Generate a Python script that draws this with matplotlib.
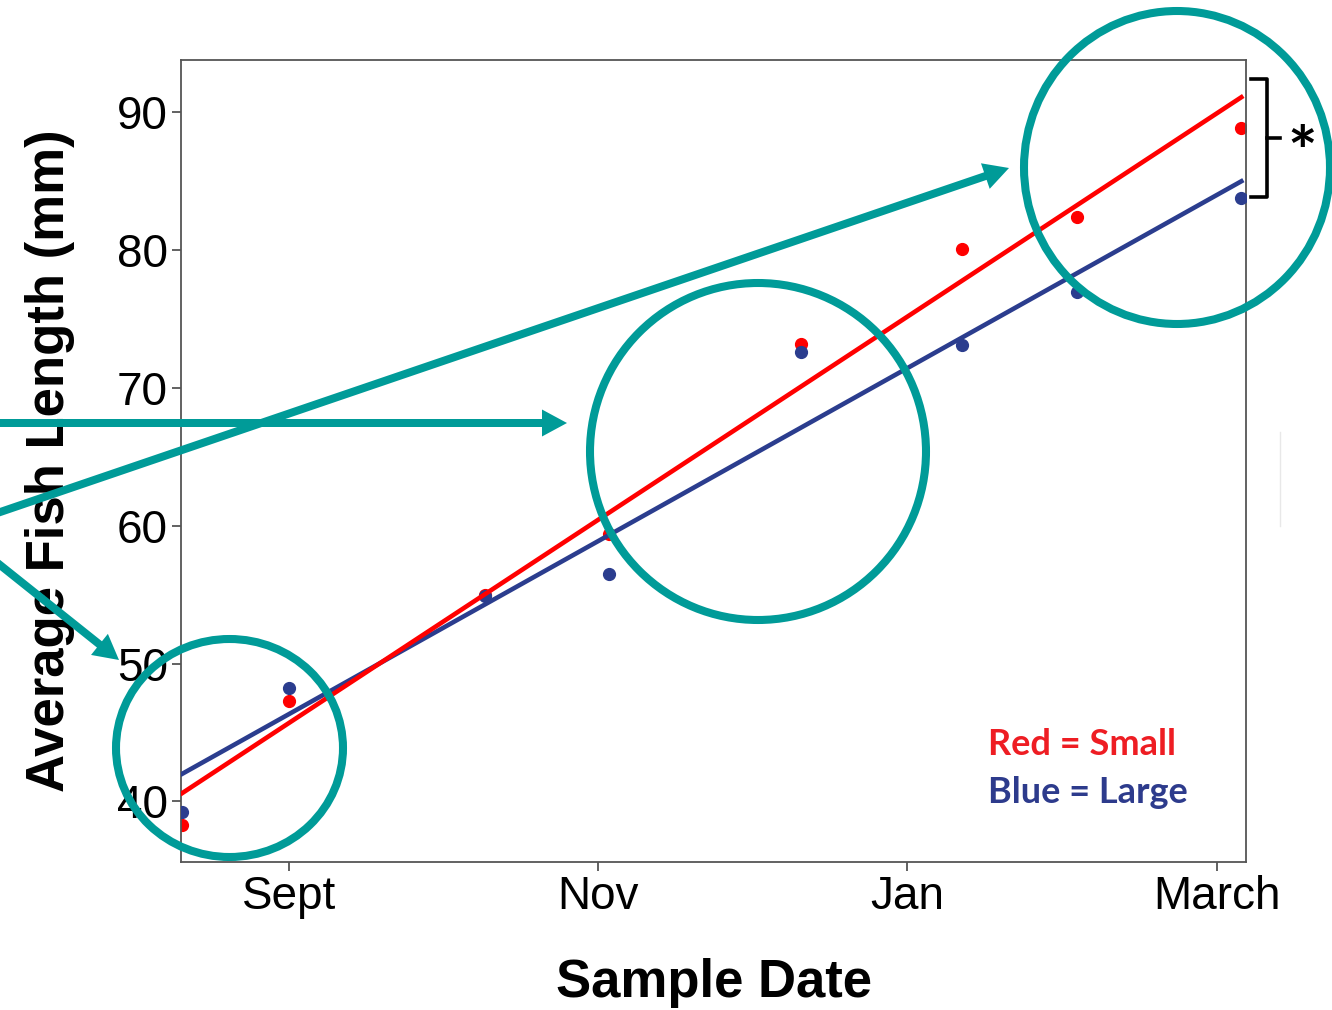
import matplotlib.pyplot as plt
from matplotlib.patches import Ellipse

# months counted from the start of September
month_ticks = [0, 2, 4, 6]
month_labels = ["Sept", "Nov", "Jan", "March"]
length_ticks = [40, 50, 60, 70, 80, 90]

sample_month = [-0.69, 0.0, 1.27, 2.07, 3.31, 4.35, 5.10, 6.16]
small_len = [38.3, 47.3, 55.0, 59.4, 73.2, 80.1, 82.4, 88.9]
large_len = [39.2, 48.2, 54.9, 56.5, 72.6, 73.1, 77.0, 83.8]

# fitted trend lines, value at the first and last sample date
fit_month = [-0.69, 6.16]
small_fit = [40.6, 91.1]
large_fit = [42.0, 85.0]

RED = "#ff0000"
BLUE = "#2b3d8e"
TEAL = "#009b98"
W, H = 1332, 1010

plt.rcParams["font.family"] = ["Liberation Sans", "DejaVu Sans"]

fig = plt.figure(figsize=(W / 100, H / 100), dpi=100)
ax = fig.add_axes([181 / W, 1 - 862 / H, (1246 - 181) / W, (862 - 60) / H])

ax.plot(sample_month, small_len, "o", color=RED, ms=8.5, zorder=2)
ax.plot(sample_month, large_len, "o", color=BLUE, ms=8.5, zorder=3)
ax.plot(fit_month, large_fit, color=BLUE, lw=3.3, zorder=4)
ax.plot(fit_month, small_fit, color=RED, lw=3.3, zorder=5)

ax.set_xlim(-0.698, 6.19)
ax.set_ylim(35.6, 93.8)
ax.set_xticks(month_ticks)
ax.set_xticklabels(month_labels)
ax.set_yticks(length_ticks)
ax.tick_params(labelsize=33, length=6.5, width=1.3, color="#555555",
               direction="out", pad=3)
for s in ax.spines.values():
    s.set_color("#555555")
    s.set_linewidth(1.3)

ax.set_xlabel("Sample Date", fontsize=38, fontweight="bold")
ax.xaxis.label.set_va("center")
ax.xaxis.set_label_coords(0.5, (862 - 983) / 802)
ax.set_ylabel("Average Fish Length (mm)", fontsize=38, fontweight="bold")
ax.yaxis.label.set_va("center")
ax.yaxis.set_label_coords((50 - 181) / 1065, 0.5)

# annotation layer in pixel coordinates
ov = fig.add_axes([0, 0, 1, 1], zorder=5)
ov.set_xlim(0, W)
ov.set_ylim(H, 0)
ov.axis("off")

for cx, cy, w, h in [(229.5, 748, 227, 218), (758, 451.5, 336, 337),
                     (1177, 167.5, 306, 313)]:
    ov.add_patch(Ellipse((cx, cy), w, h, fill=False, lw=5.8, ec=TEAL))

for x0, y0, x1, y1 in [(-10, 423, 567, 423), (-10, 515.5, 1009, 168),
                       (-10, 557, 119, 660)]:
    ov.arrow(x0, y0, x1 - x0, y1 - y0, width=8, head_width=27, head_length=25,
             length_includes_head=True, fc=TEAL, ec="none")

# bracket and asterisk for the significant difference
ov.plot([1251, 1267, 1267, 1251], [79, 79, 197, 197], color="black", lw=2.6,
        solid_joinstyle="round")
ov.plot([1267, 1280], [138, 138], color="black", lw=2.6)
ov.text(1302, 176, "*", fontsize=50, fontweight="bold", family="Lato",
        ha="center", va="baseline")
ov.plot([1280, 1280], [432, 526], color="#e8e8e8", lw=1)

ov.text(988, 755, "Red = Small", color="#ee1d23", fontsize=26,
        fontweight="bold", family="Lato", va="baseline")
ov.text(988, 803, "Blue = Large", color="#2d3b8c", fontsize=26,
        fontweight="bold", family="Lato", va="baseline")

fig.savefig("out.png", dpi=100)
